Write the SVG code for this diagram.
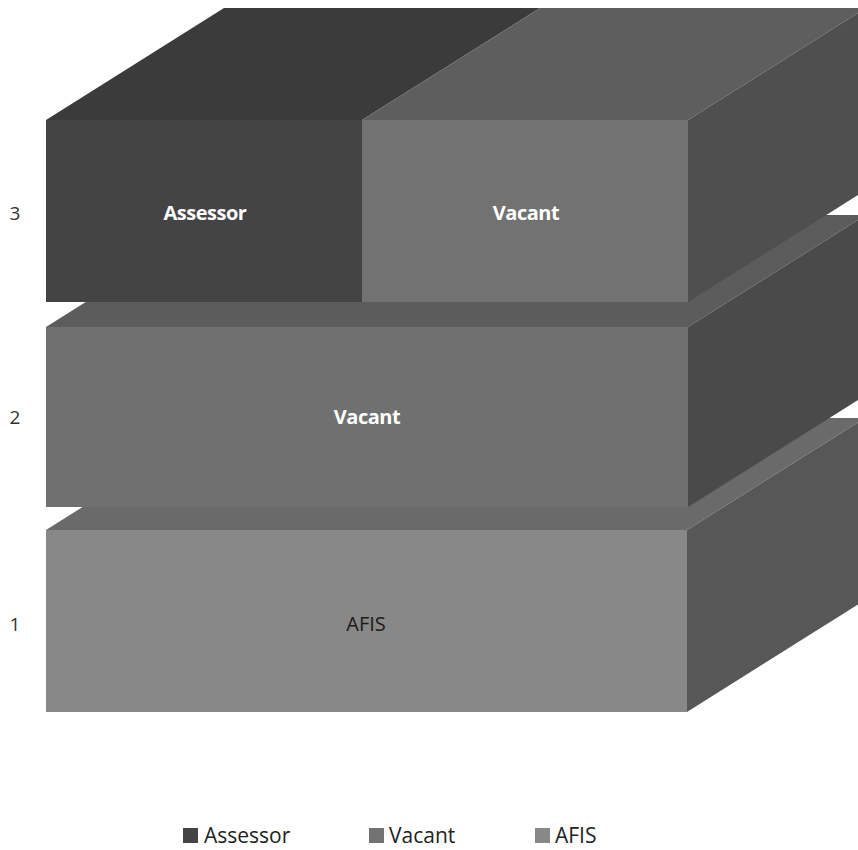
<svg xmlns="http://www.w3.org/2000/svg" width="858" height="850" viewBox="0 0 858 850">
<style>
.lbl{font-family:"Open Sans","Liberation Sans",sans-serif;font-size:20px;font-weight:bold;fill:#ffffff;text-anchor:middle;letter-spacing:-0.5px}
.lbld{font-family:"Open Sans","Liberation Sans",sans-serif;font-size:20px;fill:#1a1a1a;text-anchor:middle}
.ax{font-family:"Open Sans","Liberation Sans",sans-serif;font-size:19px;fill:#333333;text-anchor:middle}
.leg{font-family:"Open Sans","Liberation Sans",sans-serif;font-size:21px;fill:#222222}
</style>
<rect width="858" height="850" fill="#ffffff"/>
<!-- Layer 1: AFIS -->
<g id="layer1-afis">
<polygon points="46,530 687,530 865,418 224,418" fill="#6a6a6a"/>
<polygon points="687,530 865,418 865,600 687,712" fill="#575757"/>
<rect x="46" y="530" width="641" height="182" fill="#888888"/>
<text class="lbld" x="366" y="631">AFIS</text>
</g>
<!-- Layer 2: Vacant -->
<g id="layer2-vacant">
<polygon points="46,327 688,327 866,215 224,215" fill="#5c5c5c"/>
<polygon points="688,327 866,215 866,395 688,507" fill="#4a4a4a"/>
<rect x="46" y="327" width="642" height="180" fill="#707070"/>
<text class="lbl" x="367" y="424">Vacant</text>
</g>
<!-- Layer 3: Assessor -->
<g id="layer3-assessor">
<polygon points="46,120 362,120 540,8 224,8" fill="#3b3b3b"/>
<rect x="46" y="120" width="316" height="182" fill="#444444"/>
<text class="lbl" x="205" y="220">Assessor</text>
</g>
<!-- Layer 3: Vacant -->
<g id="layer3-vacant">
<polygon points="362,120 688,120 866,8 540,8" fill="#5e5e5e"/>
<polygon points="688,120 866,8 866,190 688,302" fill="#4f4f4f"/>
<rect x="362" y="120" width="326" height="182" fill="#727272"/>
<text class="lbl" x="526" y="220">Vacant</text>
</g>
<!-- Axis labels -->
<g id="axis">
<text class="ax" x="15" y="220">3</text>
<text class="ax" x="15" y="424">2</text>
<text class="ax" x="15" y="631">1</text>
</g>
<!-- Legend -->
<g id="legend">
<rect x="183" y="828" width="15" height="15" fill="#444444"/>
<text class="leg" x="204" y="843">Assessor</text>
<rect x="369" y="828" width="15" height="15" fill="#727272"/>
<text class="leg" x="389" y="843">Vacant</text>
<rect x="535" y="828" width="15" height="15" fill="#888888"/>
<text class="leg" x="555" y="843">AFIS</text>
</g>
<g id="connectors"></g>
</svg>
